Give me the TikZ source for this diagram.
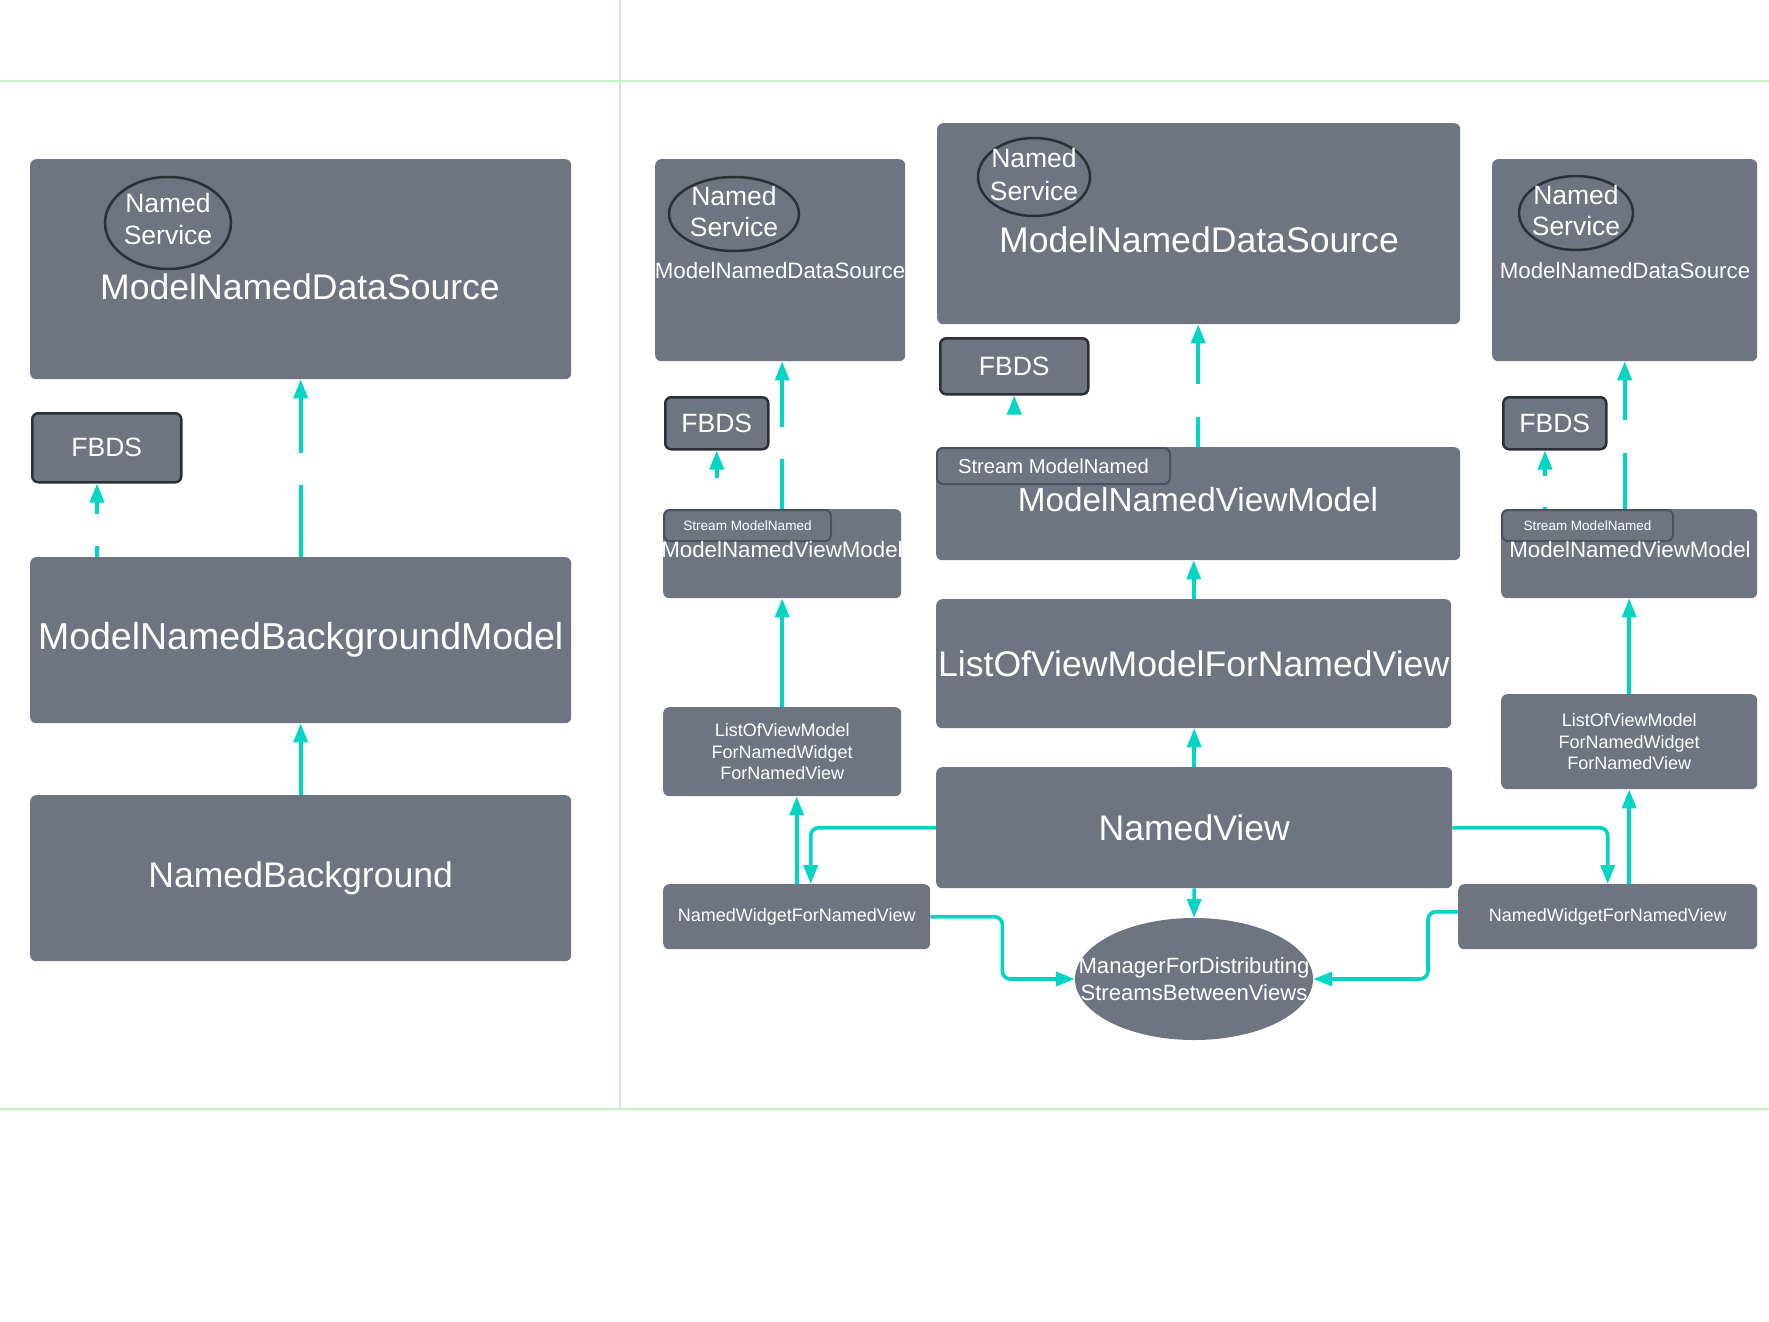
\documentclass[tikz,border=0pt]{standalone}
\usepackage{fontspec}
\setmainfont{Liberation Sans}
\usepackage{tikz}
\usetikzlibrary{calc, shapes.geometric, arrows.meta}
\definecolor{boxgray}{HTML}{6E7581}
\definecolor{flow}{HTML}{00D6C3}
\definecolor{darkrim}{HTML}{2C2F35}
\definecolor{tabrim}{HTML}{4B515B}
\definecolor{panelline}{HTML}{C3F3C6}
\newcommand{\fsz}[2]{\fontsize{#1}{#2}\selectfont}
\tikzset{>={Triangle[length=19pt,width=14pt]},
  box/.style={fill=boxgray, rounded corners=6pt, inner sep=0pt, anchor=north west, text=white, align=center},
  rimbox/.style={box, draw=darkrim, line width=2.5pt},
  tabbox/.style={box, draw=tabrim, line width=2pt},
  svc/.style={ellipse, fill=boxgray, draw=darkrim, line width=2.5pt, inner sep=0pt},
  txt/.style={text=white, inner sep=0pt, align=center},
  flowline/.style={->, color=flow, line width=3.6pt}}

\begin{document}
\begin{tikzpicture}[x=1pt, y=-1pt]
\useasboundingbox (0,0) rectangle (1769,1322);
\draw[panelline, line width=2pt] (0,81) -- (1769,81) (0,1109) -- (1769,1109) (620,0) -- (620,1109);

% background side
\node[box, minimum width=541pt, minimum height=220pt] (lds) at (30,159) {};
\node[svc, minimum width=126pt, minimum height=92pt] (lsvc) at (168,223) {};
\node[txt, font={\fsz{26.5}{32}}] (lsvct) at (168,219) {Named\\Service};
\node[txt, font={\fsz{35.6}{40}}] (ldst) at (300,287) {ModelNamedDataSource};
\node[rimbox, minimum width=149pt, minimum height=69pt, font={\fsz{26.5}{32}}] (lfb) at (31,412) {FBDS};
\node[box, minimum width=541pt, minimum height=166pt, font={\fsz{37.5}{42}}] (lbm) at (30,557) {ModelNamedBackgroundModel};
\node[box, minimum width=541pt, minimum height=166pt, font={\fsz{35.6}{40}}] (lnb) at (30,795) {NamedBackground};

% view side, left column
\node[box, minimum width=250pt, minimum height=202pt] (ads) at (655,159) {};
\node[svc, minimum width=130pt, minimum height=74pt] (asvc) at (734,214) {};
\node[txt, font={\fsz{26.5}{31}}] (asvct) at (734,212) {Named\\Service};
\node[txt, font={\fsz{22.3}{26}}] (adst) at (780,271) {ModelNamedDataSource};
\node[rimbox, minimum width=103pt, minimum height=52pt, font={\fsz{26.5}{32}}] (afb) at (664,396) {FBDS};
\node[box, minimum width=238pt, minimum height=89pt] (avm) at (663,509) {};
\node[tabbox, minimum width=167pt, minimum height=31pt, font={\fsz{13.6}{16}}] (atab) at (663,509) {Stream ModelNamed};
\node[txt, font={\fsz{22.3}{26}}] (avmt) at (782,550) {ModelNamedViewModel};
\node[box, minimum width=238pt, minimum height=89pt, font={\fsz{18}{21.5}}] (alov) at (663,707) {ListOfViewModel\\ForNamedWidget\\ForNamedView};
\node[box, minimum width=267pt, minimum height=65pt, font={\fsz{18}{21.5}}] (anw) at (663,884) {NamedWidgetForNamedView};

% view side, middle column
\node[box, minimum width=523pt, minimum height=201pt] (bds) at (937,123) {};
\node[svc, minimum width=112pt, minimum height=78pt] (bsvc) at (1034,177) {};
\node[txt, font={\fsz{26.5}{33}}] (bsvct) at (1034,175) {Named\\Service};
\node[txt, font={\fsz{35.6}{40}}] (bdst) at (1199,240) {ModelNamedDataSource};
\node[rimbox, minimum width=148pt, minimum height=56pt, font={\fsz{26.5}{32}}] (bfb) at (939,337) {FBDS};
\node[box, minimum width=524pt, minimum height=113pt] (bvm) at (936,447) {};
\node[tabbox, minimum width=233pt, minimum height=36pt, font={\fsz{20.2}{24}}] (btab) at (936,447) {Stream ModelNamed};
\node[txt, font={\fsz{33.3}{38}}] (bvmt) at (1198,500) {ModelNamedViewModel};
\node[box, minimum width=515pt, minimum height=129pt, font={\fsz{35.6}{40}}] (blov) at (936,599) {ListOfViewModelForNamedView};
\node[box, minimum width=516pt, minimum height=121pt, font={\fsz{35.6}{40}}] (nv) at (936,767) {NamedView};
\node[ellipse, fill=boxgray, inner sep=0pt, minimum width=238pt, minimum height=122pt] (mgr) at (1194,979) {};
\node[txt, font={\fsz{22.1}{27}}] (mgrt) at (1194,979) {ManagerForDistributing\\StreamsBetweenViews};

% view side, right column
\node[box, minimum width=265pt, minimum height=202pt] (cds) at (1492,159) {};
\node[svc, minimum width=114pt, minimum height=74pt] (csvc) at (1576,213) {};
\node[txt, font={\fsz{26.5}{31}}] (csvct) at (1576,211) {Named\\Service};
\node[txt, font={\fsz{22.3}{26}}] (cdst) at (1625,271) {ModelNamedDataSource};
\node[rimbox, minimum width=103pt, minimum height=52pt, font={\fsz{26.5}{32}}] (cfb) at (1502,396) {FBDS};
\node[box, minimum width=256pt, minimum height=89pt] (cvm) at (1501,509) {};
\node[tabbox, minimum width=171pt, minimum height=31pt, font={\fsz{13.5}{16}}] (ctab) at (1501,509) {Stream ModelNamed};
\node[txt, font={\fsz{22.3}{26}}] (cvmt) at (1630,550) {ModelNamedViewModel};
\node[box, minimum width=256pt, minimum height=95pt, font={\fsz{18}{21.5}}] (clov) at (1501,694) {ListOfViewModel\\ForNamedWidget\\ForNamedView};
\node[box, minimum width=299pt, minimum height=65pt, font={\fsz{18}{21.5}}] (cnw) at (1458,884) {NamedWidgetForNamedView};

% broken arrows
\draw[flowline, dash pattern=on 72pt off 32pt on 300pt off 1pt] (lbm.north) -- (lds.south);
\draw[flowline, dash pattern=on 11pt off 32pt on 100pt off 1pt] ($(lbm.north west)+(67,0)$) -- ($(lfb.south west)+(66,0)$);
\draw[flowline, dash pattern=on 50pt off 32pt on 300pt off 1pt] (avm.north) -- (avm.north |- ads.south);
\draw[flowline, dash pattern=on 20pt off 31pt, dash phase=20pt] (afb.south |- avm.north) -- (afb.south);
\draw[flowline, dash pattern=on 30pt off 33pt on 300pt off 1pt] (bvm.north) -- (bvm.north |- bds.south);
\draw[flowline, dash pattern=on 1pt off 60pt, dash phase=1pt] (bfb.south |- bvm.north) -- (bfb.south);
\draw[flowline, dash pattern=on 56pt off 33pt on 300pt off 1pt] (cvm.north -| cds.south) -- (cds.south);
\draw[flowline, dash pattern=on 2pt off 31pt on 100pt off 1pt] ($(cvm.north west)+(44,0)$) -- ($(cfb.south west)+(43,0)$);

\path[flowline]
(lnb.north) edge (lbm.south)
(alov.north) edge (alov.north |- avm.south)
(anw.north) edge (anw.north |- alov.south)
(blov.north) edge (blov.north |- bvm.south)
(nv.north) edge (nv.north |- blov.south)
(nv.south) edge (mgr.north)
(clov.north) edge (clov.north |- cvm.south)
(cnw.north -| clov.south) edge (clov.south)
;
\draw[flowline, rounded corners=8pt] (nv.west) -| ($(anw.north)+(14,0)$);
\draw[flowline, rounded corners=8pt] (anw.east) -- ++(72,0) |- (mgr.west);
\draw[flowline, rounded corners=8pt] (nv.east) -| (cnw.north);
\draw[flowline, rounded corners=8pt] ($(cnw.west)+(0,-5)$) -- ++(-30,0) |- (mgr.east);
\end{tikzpicture}
\end{document}
